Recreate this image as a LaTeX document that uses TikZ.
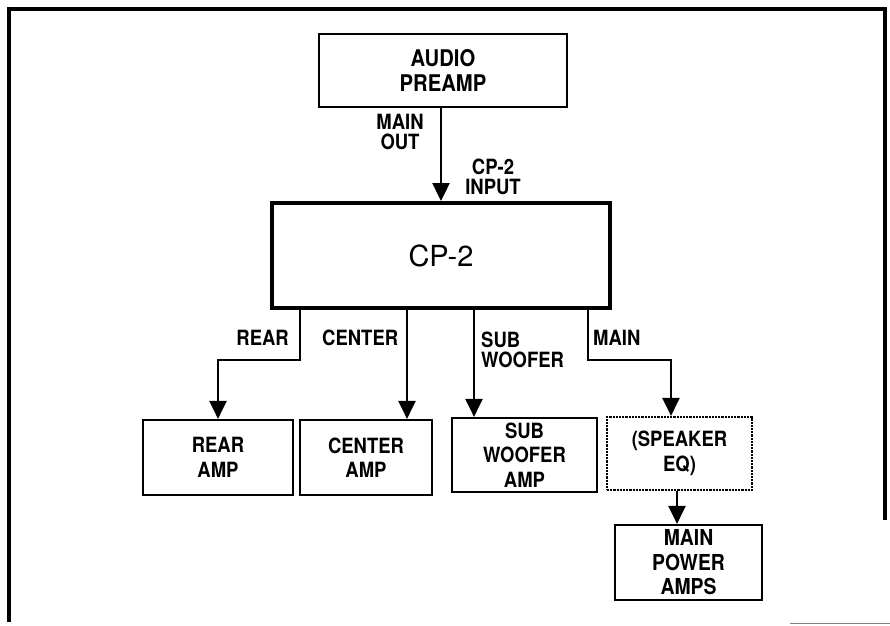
\documentclass[tikz,border=0pt]{standalone}
\usepackage{fontspec}
\setmainfont{TeX Gyre Heros}[BoldFeatures={FakeStretch=0.88}]
\usetikzlibrary{arrows.meta,calc}
\begin{document}
\begin{tikzpicture}[x=1pt,y=-1pt,
  box/.style={draw,line width=2.2pt,inner sep=0pt,align=center,
    font=\bfseries\fontsize{21}{24.5}\selectfont},
  bigtext/.style={font=\bfseries\fontsize{23}{25}\selectfont},
  lbl/.style={inner sep=0pt,align=center,font=\bfseries\fontsize{21}{20}\selectfont},
  arr/.style={line width=2.4pt,-{Triangle[width=17pt,length=18pt]}},
  frame/.style={line width=3.5pt}]
\useasboundingbox (0,0) rectangle (890,625);
% frame
\draw[frame] (9,622) -- (9,9) -- (885,9) -- (885,520);
\draw[gray,line width=1pt] (790,623.5) -- (890,623.5);
% boxes
\node[box,bigtext,minimum width=248pt,minimum height=73pt] (pre) at (443,70.5) {AUDIO\\PREAMP};
\node[box,line width=4pt,minimum width=338pt,minimum height=105pt,
  font=\fontsize{29}{30}\selectfont] (cp) at (441,255.5) {CP-2};
\node[box,minimum width=150pt,minimum height=75pt] (rear) at (218,457.5) {REAR\\AMP};
\node[box,minimum width=132pt,minimum height=75pt] (ctr) at (366,457.5) {CENTER\\AMP};
\node[box,minimum width=145pt,minimum height=74pt] (sub) at (524.5,455) {SUB\\WOOFER\\AMP};
\node[box,densely dotted,minimum width=145pt,minimum height=73pt] (eq) at (679.5,453.5) {(SPEAKER\\EQ)};
\node[box,font=\bfseries\fontsize{22}{24.5}\selectfont,minimum width=147pt,minimum height=75pt] (mpa) at (688.5,562.5) {MAIN\\POWER\\AMPS};
% connector x positions
\coordinate (xr) at (300,0);
\coordinate (xc) at (407,0);
\coordinate (xs) at (474,0);
\coordinate (xm) at (588,0);
\coordinate (xe) at (671,0);
\coordinate (xp) at (677,0);
\coordinate (yb) at (0,360);
% connectors
\draw[arr] (pre.south -| cp.north) -- (cp.north);
\draw[arr] (cp.south -| xr) -- (xr |- yb) -| (rear.north);
\draw[arr] (cp.south -| xc) -- (ctr.north -| xc);
\draw[arr] (cp.south -| xs) -- (sub.north -| xs);
\draw[arr] (cp.south -| xm) -- (xm |- yb) -| (eq.north -| xe);
\draw[arr] (eq.south -| xp) -- (mpa.north -| xp);
% labels
\node[lbl] (lmo) at (400,132) {MAIN\\OUT};
\node[lbl] (lci) at (493,177) {CP-2\\INPUT};
\node[lbl,anchor=east] (lr) at (289,338) {REAR};
\node[lbl,anchor=west] (lc) at (322,338) {CENTER};
\node[lbl,anchor=west,align=left] (ls) at (481,350) {SUB\\WOOFER};
\node[lbl,anchor=west] (lm) at (593,338) {MAIN};
\end{tikzpicture}
\end{document}
